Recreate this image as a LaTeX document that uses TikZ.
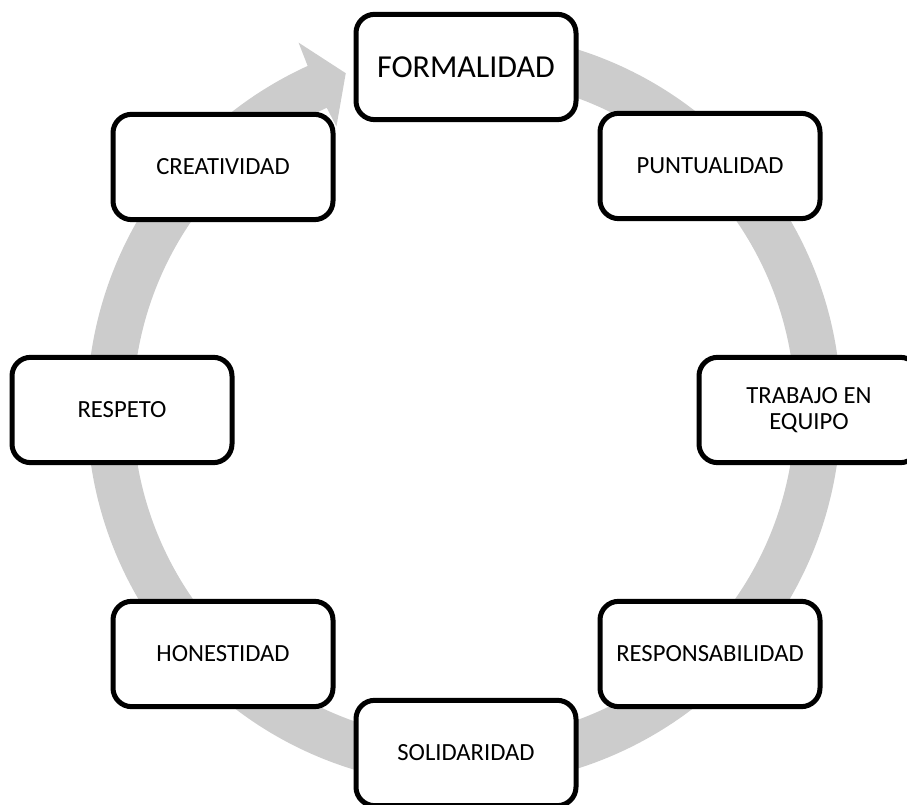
\documentclass[tikz,border=0pt]{standalone}
\usepackage{fontspec}
\setmainfont{Carlito}
\definecolor{ringgray}{RGB}{204,204,204}
\begin{document}
\begin{tikzpicture}[x=0.75pt,y=0.75pt,
  valuebox/.style={draw=black, fill=white, line width=3.75pt, rounded corners=14pt,
    minimum width=165pt, minimum height=79pt, inner sep=2pt, align=center,
    font=\fontsize{18.5}{19.5}\selectfont},
  bigvalue/.style={valuebox, font=\fontsize{24}{26}\selectfont}]
\clip (0,0) rectangle (907,805);
\useasboundingbox (0,0) rectangle (907,805);

% circular arrow running clockwise behind the values
\coordinate (c) at (464,396);
\fill[ringgray]
  ([shift={(c)}]80:377) arc[start angle=80, end angle=-245.5, radius=282.75pt]
  -- ([shift={(c)}]114.3:402)
  -- ([shift={(c)}]109.4:356)
  -- ([shift={(c)}]114.3:310)
  -- ([shift={(c)}]114.5:331)
  arc[start angle=-245.5, end angle=80, radius=248.25pt]
  -- cycle;

% values
\node[bigvalue] (formalidad)   at (466,738) {FORMALIDAD};
\node[valuebox] (puntualidad)  at (710,639) {PUNTUALIDAD};
\node[valuebox] (trabajo)      at (809,395) {TRABAJO EN\\EQUIPO};
\node[valuebox] (responsab)    at (710,151) {RESPONSABILIDAD};
\node[valuebox] (solidaridad)  at (466,52)  {SOLIDARIDAD};
\node[valuebox] (honestidad)   at (223,151) {HONESTIDAD};
\node[valuebox] (respeto)      at (122,395) {RESPETO};
\node[valuebox] (creatividad)  at (223,638) {CREATIVIDAD};
\end{tikzpicture}
\end{document}
